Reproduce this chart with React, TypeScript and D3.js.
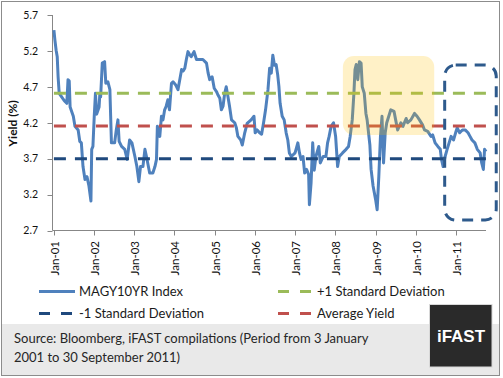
import React from "react";
import * as d3 from "d3";

const dates: string[] = [
  "2001-01-03","2001-01-12","2001-01-23","2001-02-02","2001-02-10","2001-02-20","2001-03-14","2001-04-01","2001-04-12","2001-04-30",
  "2001-05-11","2001-05-22","2001-05-30","2001-06-28","2001-07-13","2001-08-11","2001-08-26","2001-09-09","2001-09-24","2001-10-12",
  "2001-10-30","2001-11-17","2001-12-05","2001-12-12","2001-12-23","2002-01-04","2002-01-15","2002-01-26","2002-02-17","2002-02-24",
  "2002-03-03","2002-03-18","2002-04-08","2002-04-19","2002-05-08","2002-05-26","2002-06-02","2002-06-09","2002-07-08","2002-07-23",
  "2002-08-07","2002-08-18","2002-09-09","2002-10-08","2002-10-30","2002-11-21","2002-12-12","2003-01-08","2003-01-26","2003-02-13",
  "2003-02-28","2003-03-22","2003-04-09","2003-04-23","2003-05-22","2003-06-20","2003-07-09","2003-07-23","2003-07-31","2003-08-22",
  "2003-09-06","2003-09-20","2003-10-05","2003-10-19","2003-11-03","2003-11-18","2003-12-06","2003-12-20","2004-01-12","2004-02-03",
  "2004-03-07","2004-03-21","2004-04-05","2004-04-19","2004-05-04","2004-05-19","2004-06-02","2004-06-28","2004-07-20","2004-08-18",
  "2004-09-16","2004-10-19","2004-11-03","2004-11-17","2004-12-09","2004-12-28","2005-01-19","2005-01-30","2005-02-17","2005-03-03",
  "2005-03-18","2005-04-02","2005-04-16","2005-05-01","2005-05-16","2005-06-03","2005-07-02","2005-07-17","2005-07-31","2005-08-26",
  "2005-09-09","2005-10-01","2005-10-23","2005-11-28","2005-12-24","2006-01-04","2006-01-22","2006-02-13","2006-03-03","2006-03-21",
  "2006-04-08","2006-04-30","2006-05-15","2006-05-30","2006-06-13","2006-06-28","2006-07-13","2006-07-27","2006-08-07","2006-08-18",
  "2006-09-06","2006-09-24","2006-10-12","2006-10-27","2006-11-10","2006-11-28","2007-01-01","2007-01-26","2007-02-10","2007-02-24",
  "2007-03-14","2007-03-29","2007-04-16","2007-05-04","2007-05-11","2007-05-26","2007-06-10","2007-06-24","2007-07-09","2007-08-04",
  "2007-08-18","2007-09-13","2007-10-08","2007-10-23","2007-11-06","2007-11-24","2007-12-16","2008-01-04","2008-01-22","2008-02-06",
  "2008-03-07","2008-04-08","2008-04-30","2008-05-15","2008-06-03","2008-06-18","2008-06-28","2008-07-09","2008-07-23","2008-08-07",
  "2008-08-22","2008-09-02","2008-09-20","2008-10-05","2008-10-16","2008-11-10","2008-11-21","2008-12-09","2009-01-01","2009-01-15",
  "2009-01-30","2009-02-14","2009-02-28","2009-03-14","2009-03-29","2009-04-12","2009-05-19","2009-06-17","2009-07-02","2009-07-20",
  "2009-08-18","2009-09-06","2009-10-05","2009-10-19","2009-11-17","2009-12-20","2010-01-12","2010-02-03","2010-03-03","2010-03-21",
  "2010-04-19","2010-05-19","2010-06-03","2010-06-25","2010-07-20","2010-08-11","2010-08-22","2010-09-06","2010-09-24","2010-10-12",
  "2010-10-30","2010-11-17","2010-12-09","2010-12-28","2011-01-12","2011-02-03","2011-02-28","2011-03-25","2011-04-20","2011-05-08",
  "2011-05-26","2011-06-21","2011-07-13","2011-08-08","2011-08-22","2011-09-06","2011-09-17","2011-09-30"
];

const yields: number[] = [
  5.49,5.35,5.21,5.12,4.84,4.61,4.56,4.52,4.50,4.47,
  4.80,4.78,4.42,4.29,4.15,4.10,3.94,3.92,3.59,3.41,
  3.45,3.32,3.11,3.83,3.87,4.29,4.61,4.32,4.42,4.61,
  4.56,5.03,5.05,4.75,4.77,4.66,4.29,3.92,3.92,4.10,
  4.24,3.94,3.87,3.83,3.69,3.96,3.92,3.73,3.59,3.38,
  3.59,3.59,3.83,3.73,3.50,3.50,3.59,3.69,4.15,4.01,
  4.29,4.24,4.38,4.43,4.52,4.38,4.75,4.77,4.73,4.66,
  4.94,4.92,4.96,5.08,5.19,5.15,5.12,5.19,5.08,5.08,
  5.08,5.03,4.89,4.80,4.84,4.68,4.63,4.59,4.54,4.38,
  4.43,4.61,4.70,4.57,4.43,4.24,4.20,4.13,4.01,3.96,
  3.89,4.06,4.19,4.24,4.29,4.06,4.10,4.06,4.04,4.20,
  4.38,4.66,4.96,4.89,5.14,5.00,5.01,4.87,4.71,4.47,
  4.29,4.24,4.06,3.96,3.78,3.73,3.78,3.92,3.78,3.69,
  3.73,3.50,3.55,3.48,3.06,3.36,3.92,3.54,3.73,3.87,
  3.64,3.73,3.73,3.92,4.01,4.15,4.20,4.01,3.59,3.73,
  3.78,3.83,3.87,4.01,4.24,4.61,4.94,5.01,4.80,5.05,
  5.03,4.70,4.61,4.33,4.24,3.89,3.55,3.32,3.13,2.99,
  3.45,4.01,4.29,3.64,4.06,4.20,4.38,4.36,4.24,4.10,
  4.20,4.15,4.26,4.20,4.24,4.33,4.29,4.24,4.17,4.10,
  4.08,4.01,4.03,3.92,3.87,3.83,3.69,3.59,3.73,3.83,
  3.92,4.01,3.96,4.06,4.13,4.06,4.10,4.10,4.06,4.01,
  3.96,3.92,3.83,3.78,3.64,3.55,3.83,3.80
];

const averageYield = 4.155;
const plusOneSD = 4.61;
const minusOneSD = 3.70;
const yTicks: number[] = [2.7, 3.2, 3.7, 4.2, 4.7, 5.2, 5.7];
const tickYears: number[] = [2001, 2002, 2003, 2004, 2005, 2006, 2007, 2008, 2009, 2010, 2011];
const highlightPeriod: [string, string] = ["2008-03-10", "2010-06-17"];
const highlightRange: [number, number] = [4.03, 5.13];
const boxPeriod: [string, string] = ["2010-09-20", "2012-01-01"];
const boxRange: [number, number] = [2.846, 5.004];

const FONT = "Lato, 'Liberation Sans', sans-serif";

export default function App() {
  const parse = d3.timeParse("%Y-%m-%d");
  const data = dates.map((d, i) => ({ date: parse(d) as Date, value: yields[i] }));
  const x = d3.scaleTime().domain([new Date(2001, 0, 1), new Date(2011, 8, 30)]).range([53.7, 486]);
  const y = d3.scaleLinear().domain([2.7, 5.7]).range([230.5, 15]);
  const line = d3.line<{ date: Date; value: number }>().x(d => x(d.date)).y(d => y(d.value));
  const x0 = x(data[0].date);
  const x1 = x(data[data.length - 1].date);
  const fmt = d3.timeFormat("%b-%y");

  const hx0 = x(parse(highlightPeriod[0]) as Date);
  const hx1 = x(parse(highlightPeriod[1]) as Date);
  const hy0 = y(highlightRange[1]);
  const hy1 = y(highlightRange[0]);
  const bx0 = x(parse(boxPeriod[0]) as Date);
  const bx1 = x(parse(boxPeriod[1]) as Date);
  const by0 = y(boxRange[1]);
  const by1 = y(boxRange[0]);

  const refLines = [
    { v: plusOneSD, color: "#9BBB59" },
    { v: minusOneSD, color: "#1F497D" },
    { v: averageYield, color: "#C0504D" },
  ];

  return (
    <svg width={503} height={378} style={{ position: "absolute", left: 0, top: 0 }} fontFamily={FONT}>
      <rect x={0} y={0} width={503} height={378} fill="#ffffff" />
      <rect x={1.5} y={324} width={498} height={51.5} fill="#e9e9e9" />
      <rect x={1.5} y={1.5} width={498} height={374} fill="none" stroke="#8c8c8c" strokeWidth={1} />

      {/* axes */}
      <line x1={52.5} y1={y(5.7)} x2={52.5} y2={y(2.7)} stroke="#878787" strokeWidth={1} />
      <line x1={52.5} y1={230.5} x2={486} y2={230.5} stroke="#878787" strokeWidth={1} />
      {yTicks.map(t => (
        <g key={"y" + t}>
          <line x1={47.5} x2={52.5} y1={Math.round(y(t)) + 0.5} y2={Math.round(y(t)) + 0.5} stroke="#878787" />
          <text x={38} y={y(t)} dy="0.36em" textAnchor="end" fontSize={10.5} fill="#111">{d3.format(".1f")(t)}</text>
        </g>
      ))}
      {tickYears.map(yr => {
        const tx = Math.round(x(new Date(yr, 0, 1))) + 0.5;
        return (
          <g key={"x" + yr}>
            <line x1={tx} x2={tx} y1={230.5} y2={235.5} stroke="#878787" />
            <text transform={`translate(${tx + 4},241) rotate(-90)`} textAnchor="end" fontSize={11.5} fill="#111">{fmt(new Date(yr, 0, 1))}</text>
          </g>
        );
      })}
      <text transform="translate(16.5,123.5) rotate(-90)" textAnchor="middle" fontSize={12} fontWeight="bold" fill="#111">Yield (%)</text>

      {/* series */}
      <path d={line(data) || ""} fill="none" stroke="#4F81BD" strokeWidth={3} strokeLinejoin="round" />
      {refLines.map(r => (
        <line key={r.color} x1={x0} x2={x1} y1={y(r.v)} y2={y(r.v)} stroke={r.color} strokeWidth={3} strokeDasharray="12,9" />
      ))}

      {/* annotations */}
      <rect x={hx0} y={hy0} width={hx1 - hx0} height={hy1 - hy0} rx={11} ry={11} fill="#FFC000" fillOpacity={0.22} />
      <rect x={bx0} y={by0} width={bx1 - bx0} height={by1 - by0} rx={11} ry={11} fill="none" stroke="#2E5A8C" strokeWidth={3} strokeDasharray="11,8" />

      {/* legend */}
      <line x1={39} x2={75} y1={291.5} y2={291.5} stroke="#4F81BD" strokeWidth={3} />
      <text x={79} y={296} fontSize={13} fill="#1a1a1a">MAGY10YR Index</text>
      <line x1={278} x2={312} y1={291.5} y2={291.5} stroke="#9BBB59" strokeWidth={3} strokeDasharray="11,11" />
      <text x={317} y={296} fontSize={13} fill="#1a1a1a">+1 Standard Deviation</text>
      <line x1={39} x2={72} y1={313.5} y2={313.5} stroke="#1F497D" strokeWidth={3} strokeDasharray="11,11" />
      <text x={79} y={318} fontSize={13} fill="#1a1a1a">-1 Standard Deviation</text>
      <line x1={278} x2={312} y1={313.5} y2={313.5} stroke="#C0504D" strokeWidth={3} strokeDasharray="11,11" />
      <text x={317} y={318} fontSize={13} fill="#1a1a1a">Average Yield</text>

      {/* source */}
      <text x={14} y={342.5} fontSize={13} fill="#262626">Source: Bloomberg, iFAST compilations (Period from 3 January</text>
      <text x={14} y={361.5} fontSize={13} fill="#262626">2001 to 30 September 2011)</text>

      <rect x={429.5} y={304.5} width={62.5} height={62.5} fill="#2a2a2a" stroke="#d8d8d8" strokeWidth={1} />
      <text x={461} y={342} textAnchor="middle" fontSize={17} fontWeight="bold" fill="#ffffff" fontFamily="'Liberation Sans', Arial, sans-serif">iFAST</text>
    </svg>
  );
}
